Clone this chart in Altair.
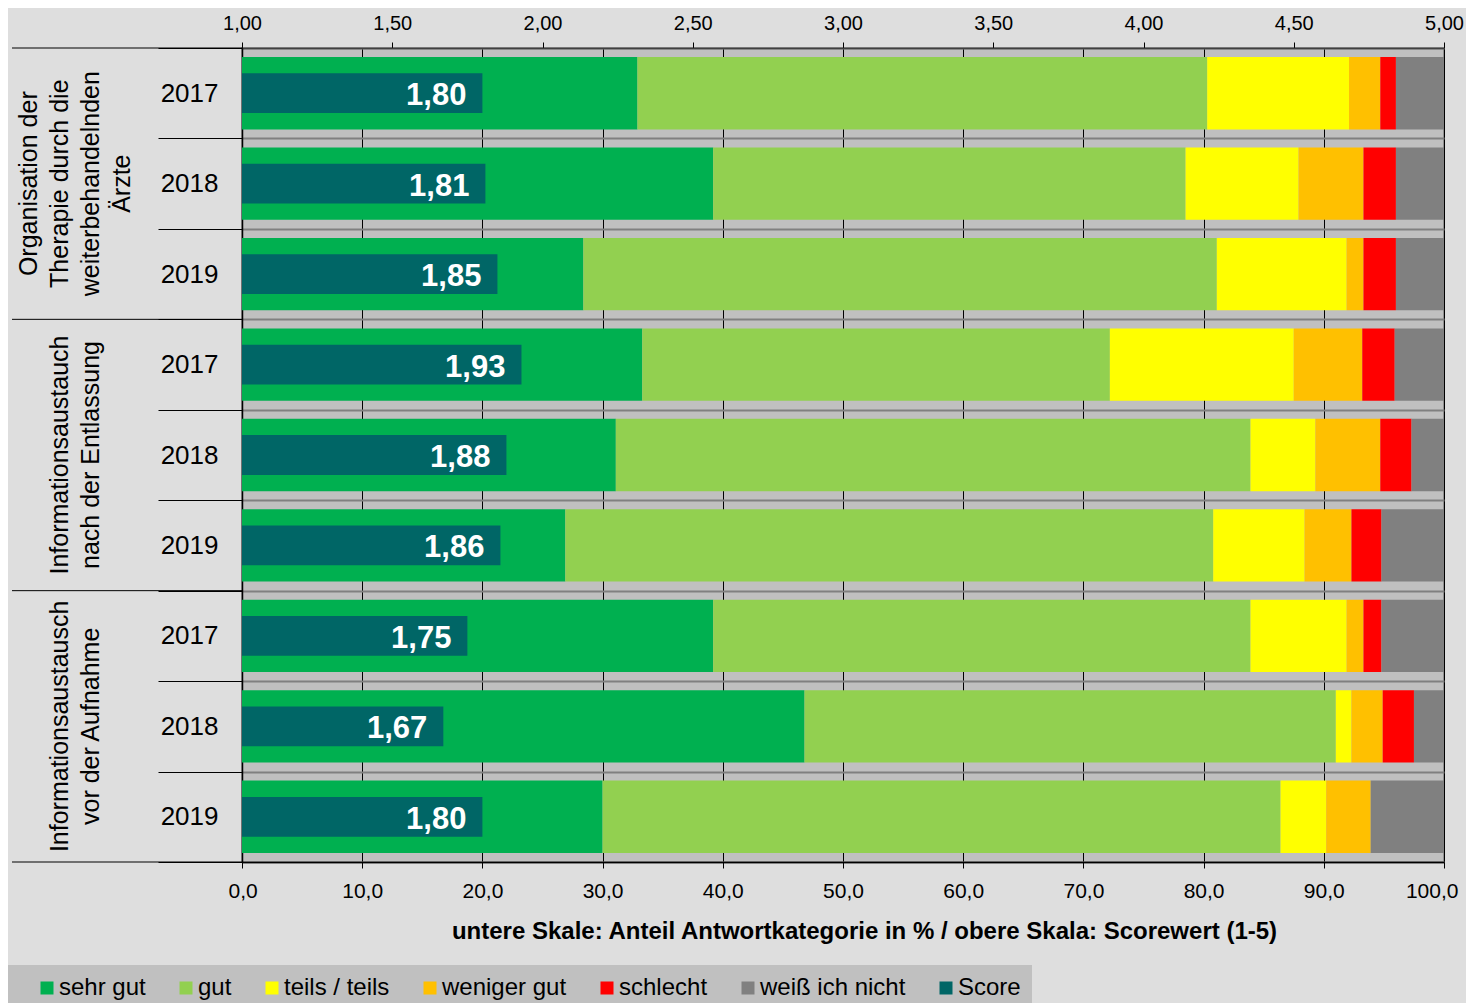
import altair as alt
import pandas as pd

FONT = "Liberation Sans, Arial, sans-serif"

# ---------------- data ----------------
group_ids = ["G1", "G2", "G3"]
group_labels = [
    "Organisation der\nTherapie durch die\nweiterbehandelnden\nÄrzte",
    "\n\nInformationsaustauch\nnach der Entlassung",
    "\n\nInformationsaustausch\nvor der Aufnahme",
]
years = ["2017", "2018", "2019"]

categories = ["sehr gut", "gut", "teils / teils", "weniger gut", "schlecht", "weiß ich nicht"]
cat_colors = ["#00B050", "#92D050", "#FFFF00", "#FFC000", "#FF0000", "#808080"]
score_name = "Score"
score_color = "#006666"

# shares in % per row (groups x years, top to bottom)
sehr_gut = [32.9, 39.2, 28.4, 33.3, 31.1, 26.9, 39.2, 46.8, 30.0]
gut      = [47.4, 39.3, 52.7, 38.9, 52.8, 53.9, 44.7, 44.2, 56.4]
teils    = [11.8,  9.4, 10.8, 15.3,  5.4,  7.6,  8.0,  1.3,  3.8]
weniger  = [ 2.6,  5.4,  1.4,  5.7,  5.4,  3.9,  1.4,  2.6,  3.7]
schlecht = [ 1.3,  2.7,  2.7,  2.7,  2.6,  2.5,  1.5,  2.6,  0.0]
weiss    = [ 4.0,  4.0,  4.0,  4.1,  2.7,  5.2,  5.2,  2.5,  6.1]
scores   = [1.80, 1.81, 1.85, 1.93, 1.88, 1.86, 1.75, 1.67, 1.80]

pct_ticks = [0, 10, 20, 30, 40, 50, 60, 70, 80, 90, 100]
score_ticks = [1.0, 1.5, 2.0, 2.5, 3.0, 3.5, 4.0, 4.5, 5.0]

# ---------------- tables ----------------
rows = [f"{g}|{y}" for g in group_ids for y in years]
series = [sehr_gut, gut, teils, weniger, schlecht, weiss]

stack_records = []
for ci, (cat, vals) in enumerate(zip(categories, series)):
    for r, v in zip(rows, vals):
        stack_records.append({"row": r, "cat": cat, "ci": ci, "value": v})
stack_df = pd.DataFrame(stack_records)

score_df = pd.DataFrame({"row": rows, "score": scores, "cat": score_name})

group_df = pd.DataFrame({"row": [rows[1], rows[4], rows[7]], "label": group_labels})
sep_top_df = pd.DataFrame({"row": [rows[0], rows[3], rows[6]]})
sep_bot_df = pd.DataFrame({"row": [rows[8]]})

# ---------------- encodings ----------------
y_scale = alt.Scale(domain=rows, paddingInner=0, paddingOuter=0)
y_axis = alt.Axis(
    title=None,
    labelExpr="split(datum.value, '|')[1]",
    labelFontSize=26, labelFont=FONT, labelColor="#000",
    tickBand="extent", tickSize=84, tickColor="#000", tickWidth=1,
    labelPadding=-60,
    domainColor="#000", domainWidth=1.5,
    grid=True, gridColor="#808080", gridWidth=2,
)
y_enc = alt.Y("row:N", scale=y_scale, axis=y_axis, sort=None)

color_enc = alt.Color(
    "cat:N",
    scale=alt.Scale(domain=categories + [score_name], range=cat_colors + [score_color]),
    legend=alt.Legend(
        title=" ", titleOrient="left", titleFontSize=1, titlePadding=16,
        orient="none", legendX=-234, legendY=917, direction="horizontal", columns=7,
        labelFontSize=24, labelFont=FONT, labelColor="#000", labelOffset=0,
        symbolType="square", symbolSize=169, symbolStrokeWidth=0,
        columnPadding=28, padding=11, fillColor="#c0c0c0",
    ),
)

x_pct = alt.X(
    "value:Q", stack="zero",
    scale=alt.Scale(domain=[0, 100], nice=False),
    axis=alt.Axis(
        orient="bottom", values=pct_ticks, labelFlush=True, labelFlushOffset=14,
        labelExpr="replace(format(datum.value, '.1f'), '.', ',')",
        labelFontSize=21, labelFont=FONT, labelColor="#000", labelPadding=12,
        tickSize=6, tickColor="#000", domainColor="#000", domainWidth=1.5,
        grid=True, gridColor="#000", gridWidth=1,
        title="untere Skale: Anteil Antwortkategorie in % / obere Skala: Scorewert (1-5)",
        titleFontSize=24, titleFont=FONT, titleFontWeight="bold", titleColor="#000",
        titleX=622, titleY=76, titleAlign="center", titleBaseline="alphabetic",
    ),
)

bars = alt.Chart(stack_df).mark_bar(height=alt.RelativeBandSize(0.8)).encode(
    x=x_pct, y=y_enc, color=color_enc, order=alt.Order("ci:Q"),
)

group_text = alt.Chart(group_df).mark_text(
    angle=270, align="center", baseline="bottom", lineBreak="\n",
    fontSize=25, lineHeight=31, font=FONT, color="#000",
).encode(x=alt.value(-200), y=y_enc, text="label:N")

sep_top = alt.Chart(sep_top_df).mark_rule(color="#000", strokeWidth=1).encode(
    x=alt.value(-230), x2=alt.value(0),
    y=alt.Y("row:N", scale=y_scale, axis=y_axis, sort=None, bandPosition=0),
)
sep_bot = alt.Chart(sep_bot_df).mark_rule(color="#000", strokeWidth=1).encode(
    x=alt.value(-230), x2=alt.value(0),
    y=alt.Y("row:N", scale=y_scale, axis=y_axis, sort=None, bandPosition=1),
)

x_score = alt.X(
    "score:Q",
    scale=alt.Scale(domain=[1, 5], nice=False, zero=False),
    axis=alt.Axis(
        orient="top", values=score_ticks, title=None, labelFlush=False,
        labelExpr="replace(format(datum.value, '.2f'), '.', ',')",
        labelFontSize=20, labelFont=FONT, labelColor="#000", labelPadding=9,
        tickSize=6, tickColor="#000", domainColor="#404040", domainWidth=1.5,
        grid=False,
    ),
)

score_bar = alt.Chart(score_df).mark_bar(height=alt.RelativeBandSize(0.44)).encode(
    x=x_score, x2=alt.datum(1), y=y_enc, color=color_enc,
)
score_text = alt.Chart(score_df).transform_calculate(
    lbl="replace(format(datum.score, '.2f'), '.', ',')"
).mark_text(
    align="right", baseline="middle", dx=-16, dy=3,
    fontSize=31, fontWeight="bold", font=FONT, color="#ffffff",
).encode(x=x_score, y=y_enc, text="lbl:N")

main = alt.layer(bars, sep_top, sep_bot, group_text)
score_layer = alt.layer(score_bar, score_text)

chart = alt.layer(main, score_layer).resolve_scale(x="independent").properties(
    width=1202, height=814,
    padding={"left": 234, "top": 40, "right": 22, "bottom": 141},
    autosize=alt.AutoSizeParams(type="none"),
    background="#dedede",
).configure_view(fill="#c0c0c0", stroke="#808080", strokeWidth=1.5)

chart.save("out.html", embed_options={"renderer": "svg", "actions": False})
